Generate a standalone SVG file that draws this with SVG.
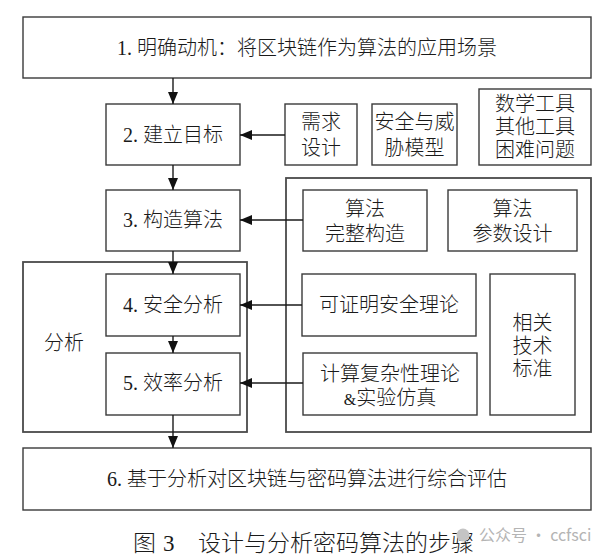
<svg xmlns="http://www.w3.org/2000/svg" width="603" height="557" viewBox="0 0 603 557">
<defs>
<style>
.b{fill:#fff;stroke:#3a3a3a;stroke-width:1.4}
.g{fill:none;stroke:#4a4a4a;stroke-width:1.8}
.t{font-family:"Liberation Serif","Noto Sans CJK SC",serif;font-size:20px;font-weight:300;fill:#1a1a1a;text-anchor:middle}
.c{stroke:#1a1a1a;stroke-width:1.4;fill:none;marker-end:url(#ah)}
.cap{font-family:"Liberation Serif","Noto Sans CJK SC",serif;font-size:23px;font-weight:300;fill:#1a1a1a}
.wm{font-family:"Noto Sans CJK SC","Noto Sans",sans-serif;font-size:16px;fill:#b4b4b4}
.amp{font-size:16px}
</style>
<marker id="ah" viewBox="0 0 12 10" refX="12" refY="5" markerWidth="12" markerHeight="10" markerUnits="userSpaceOnUse" orient="auto">
<path d="M0,0 L12,5 L0,10 z" fill="#111"/>
</marker>
</defs>
<rect width="603" height="557" fill="#fff"/>

<g id="group-right">
<rect class="g" x="286" y="178" width="305" height="254"/>
</g>
<g id="group-analysis">
<rect class="g" x="23" y="262" width="224" height="170"/>
<text class="t" x="64" y="350">分析</text>
</g>

<g id="n1"><rect class="b" x="23" y="17" width="568" height="61"/><text class="t" x="307" y="55">1. 明确动机：将区块链作为算法的应用场景</text></g>
<g id="n2"><rect class="b" x="106" y="104" width="134" height="61"/><text class="t" x="173" y="142">2. 建立目标</text></g>
<g id="n-req"><rect class="b" x="285" y="104" width="72" height="61"/><text class="t" x="321" y="129">需求</text><text class="t" x="321" y="155">设计</text></g>
<g id="n-threat"><rect class="b" x="372" y="104" width="85" height="61"/><text class="t" x="414.5" y="129">安全与威</text><text class="t" x="414.5" y="155">胁模型</text></g>
<g id="n-math"><rect class="b" x="479" y="89" width="112" height="76"/><text class="t" x="535" y="111">数学工具</text><text class="t" x="535" y="134">其他工具</text><text class="t" x="535" y="157">困难问题</text></g>
<g id="n3"><rect class="b" x="106" y="190" width="134" height="61"/><text class="t" x="173" y="227">3. 构造算法</text></g>
<g id="n-construct"><rect class="b" x="303" y="190" width="124" height="61"/><text class="t" x="365" y="216">算法</text><text class="t" x="365" y="241">完整构造</text></g>
<g id="n-param"><rect class="b" x="448" y="190" width="129" height="61"/><text class="t" x="512.5" y="216">算法</text><text class="t" x="512.5" y="241">参数设计</text></g>
<g id="n4"><rect class="b" x="106" y="274" width="134" height="62"/><text class="t" x="173" y="312">4. 安全分析</text></g>
<g id="n-provable"><rect class="b" x="302" y="274" width="174" height="62"/><text class="t" x="389" y="312">可证明安全理论</text></g>
<g id="n-std"><rect class="b" x="490" y="274" width="85" height="141"/><text class="t" x="532.5" y="330">相关</text><text class="t" x="532.5" y="353">技术</text><text class="t" x="532.5" y="376">标准</text></g>
<g id="n5"><rect class="b" x="106" y="353" width="134" height="62"/><text class="t" x="173" y="390">5. 效率分析</text></g>
<g id="n-complex"><rect class="b" x="303" y="353" width="174" height="62"/><text class="t" x="390" y="381">计算复杂性理论</text><text class="t" x="390" y="405"><tspan class="amp">&amp;</tspan>实验仿真</text></g>
<g id="n6"><rect class="b" x="23" y="448" width="568" height="62"/><text class="t" x="307" y="486">6. 基于分析对区块链与密码算法进行综合评估</text></g>

<g id="connectors">
<line class="c" x1="173" y1="78" x2="173" y2="104"/>
<line class="c" x1="173" y1="165" x2="173" y2="190"/>
<line class="c" x1="173" y1="251" x2="173" y2="274"/>
<line class="c" x1="173" y1="336" x2="173" y2="353"/>
<line class="c" x1="173" y1="415" x2="173" y2="448"/>
<line class="c" x1="285" y1="135" x2="240" y2="135"/>
<line class="c" x1="303" y1="220" x2="240" y2="220"/>
<line class="c" x1="302" y1="305" x2="240" y2="305"/>
<line class="c" x1="303" y1="383" x2="240" y2="383"/>
</g>

<g id="caption">
<text class="cap" x="133" y="551">图</text>
<text class="cap" x="163" y="551">3</text>
<text class="cap" x="198" y="551">设计与分析密码算法的步骤</text>
</g>
<g id="watermark">
<circle cx="463" cy="535" r="6.5" fill="#c4c4c4"/>
<text class="wm" x="479" y="541">公众号 · ccfsci</text>
</g>
</svg>
